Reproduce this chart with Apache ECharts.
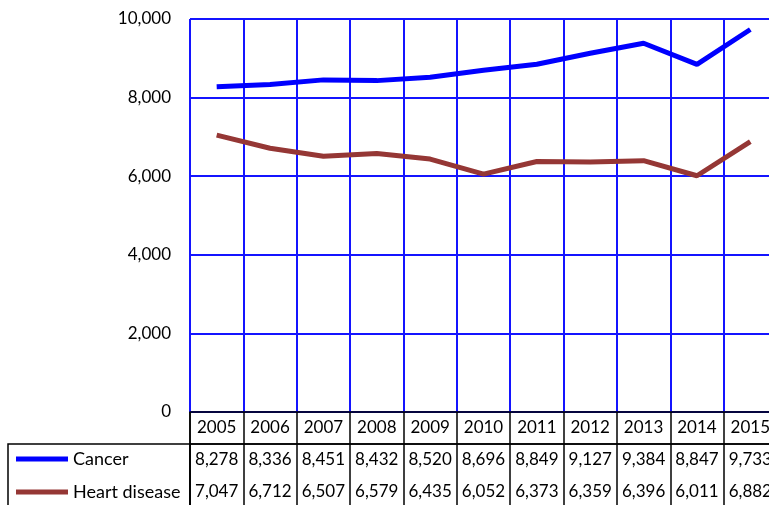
<!DOCTYPE html>
<html>
<head>
<meta charset="utf-8">
<script src="https://cdn.jsdelivr.net/npm/echarts@6/dist/echarts.min.js"></script>
<style>html,body{margin:0;padding:0;background:#fff;}#c{width:769px;height:505px;}</style>
</head>
<body>
<div id="c"></div>
<script>
const years = ['2005','2006','2007','2008','2009','2010','2011','2012','2013','2014','2015'];
const cancer = [8278, 8336, 8451, 8432, 8520, 8696, 8849, 9127, 9384, 8847, 9733];
const heart = [7047, 6712, 6507, 6579, 6435, 6052, 6373, 6359, 6396, 6011, 6882];
const seriesNames = ['Cancer', 'Heart disease'];
const yTicks = [0, 2000, 4000, 6000, 8000, 10000];

const fmt = v => Number(v).toLocaleString('en-US');
const FONT = 'Lato';
const FS = 17;
const blue = '#1414ff';
const black = '#000';

const chart = echarts.init(document.getElementById('c'), null, {renderer: 'canvas'});
const tableGridBase = {show: true, borderColor: black, borderWidth: 1.5, backgroundColor: 'transparent', outerBoundsMode: 'none', containLabel: false};
chart.setOption({
  animation: false,
  textStyle: {fontFamily: FONT},
  grid: [
    {left: 190, top: 19, width: 587, height: 393, outerBoundsMode: 'none', containLabel: false},
    Object.assign({left: 190, top: 412, width: 587, height: 32}, tableGridBase),
    Object.assign({left: 8, top: 444, width: 182, height: 66}, tableGridBase),
    Object.assign({left: 190, top: 444, width: 587, height: 64}, tableGridBase)
  ],
  legend: {
    orient: 'vertical', left: 16, top: 449, padding: 0,
    itemWidth: 52, itemHeight: 5, itemGap: 13, icon: 'rect',
    data: seriesNames,
    textStyle: {fontFamily: FONT, fontSize: 18, color: black, lineHeight: 20}
  },
  xAxis: [
    {gridIndex: 0, type: 'category', data: years, boundaryGap: true,
     axisLabel: {show: false}, axisTick: {show: false},
     axisLine: {show: true, lineStyle: {color: black, width: 1.5}},
     splitLine: {show: true, interval: 0, lineStyle: {color: blue, width: 2}}},
    {gridIndex: 1, type: 'category', data: years, position: 'top', boundaryGap: true,
     axisLine: {show: false}, axisTick: {show: false},
     axisLabel: {inside: true, margin: 16, verticalAlign: 'middle', interval: 0,
                 fontFamily: FONT, fontSize: FS, color: black},
     splitLine: {show: true, interval: 0, lineStyle: {color: black, width: 1.5}}},
    {gridIndex: 2, type: 'category', data: years, show: false},
    {gridIndex: 3, type: 'category', data: years, position: 'top', boundaryGap: true,
     axisLine: {show: false}, axisTick: {show: false},
     axisLabel: {inside: true, margin: 16, verticalAlign: 'middle', interval: 0,
                 fontFamily: FONT, fontSize: FS, color: black,
                 formatter: (v, i) => fmt(cancer[i])},
     splitLine: {show: true, interval: 0, lineStyle: {color: black, width: 1.5}}},
    {gridIndex: 3, type: 'category', data: years, position: 'bottom', boundaryGap: true,
     axisLine: {show: false}, axisTick: {show: false},
     axisLabel: {inside: true, margin: 16, verticalAlign: 'middle', interval: 0,
                 fontFamily: FONT, fontSize: FS, color: black,
                 formatter: (v, i) => fmt(heart[i])},
     splitLine: {show: false}}
  ],
  yAxis: [
    {gridIndex: 0, type: 'value', min: yTicks[0], max: yTicks[yTicks.length - 1], interval: 2000,
     axisLine: {show: false}, axisTick: {show: false},
     axisLabel: {margin: 19, fontFamily: FONT, fontSize: FS, color: black, formatter: v => fmt(v)},
     splitLine: {show: true, lineStyle: {color: blue, width: 2}}},
    {gridIndex: 1, type: 'value', show: false, splitLine: {show: false}},
    {gridIndex: 2, type: 'value', show: false, splitLine: {show: false}},
    {gridIndex: 3, type: 'value', show: false, splitLine: {show: false}}
  ],
  series: [
    {name: seriesNames[0], type: 'line', xAxisIndex: 0, yAxisIndex: 0, data: cancer,
     symbol: 'none', lineStyle: {color: '#0000ff', width: 5}, itemStyle: {color: '#0000ff'}},
    {name: seriesNames[1], type: 'line', xAxisIndex: 0, yAxisIndex: 0, data: heart,
     symbol: 'none', lineStyle: {color: '#953735', width: 5}, itemStyle: {color: '#953735'}}
  ]
});
</script>
</body>
</html>
